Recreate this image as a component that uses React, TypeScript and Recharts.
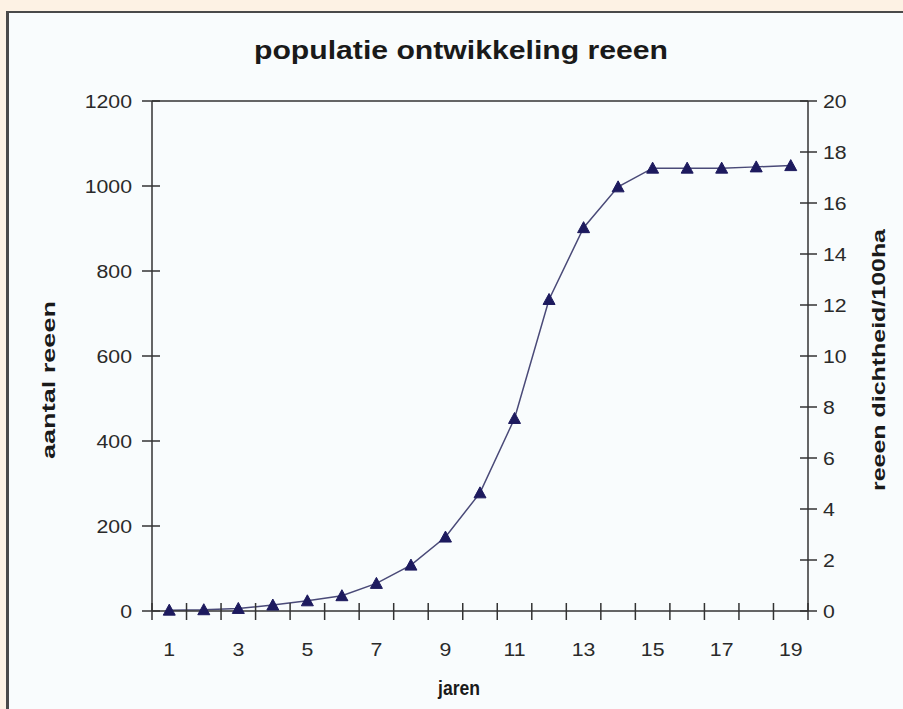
import React from "react";
import { LineChart, Line, XAxis, YAxis, ReferenceLine } from "recharts";

const jaren = [1, 2, 3, 4, 5, 6, 7, 8, 9, 10, 11, 12, 13, 14, 15, 16, 17, 18, 19];
const aantalReeen = [2, 3, 6, 14, 24, 36, 65, 108, 174, 278, 453, 733, 902, 998, 1042, 1042, 1042, 1045, 1048];

const leftTicks = [0, 200, 400, 600, 800, 1000, 1200];
const rightTicks = [0, 2, 4, 6, 8, 10, 12, 14, 16, 18, 20];
const xLabels = [1, 3, 5, 7, 9, 11, 13, 15, 17, 19];
const xTickMarks = [0.5, 1.5, 2.5, 3.5, 4.5, 5.5, 6.5, 7.5, 8.5, 9.5, 10.5, 11.5, 12.5, 13.5, 14.5, 15.5, 16.5, 17.5, 18.5, 19.5];

const data = jaren.map((j, i) => ({ jaar: j, aantal: aantalReeen[i] }));

const FONT = "'Liberation Sans', Arial, sans-serif";
const AXIS = "#333";
const TXT = "#2a2a2a";

const Num = ({ x, y, anchor, children }: any) => (
  <text
    transform={`translate(${x},${y}) scale(1.12,1)`}
    textAnchor={anchor}
    fontFamily={FONT}
    fontSize={19}
    fill={TXT}
  >
    {children}
  </text>
);

const LeftTick = (props: any) => {
  const { x, y, payload } = props;
  return (
    <g>
      <line x1={x - 10} x2={x + 8} y1={y} y2={y} stroke={AXIS} strokeWidth={1.5} />
      <Num x={x - 20} y={y + 7} anchor="end">{payload.value}</Num>
    </g>
  );
};

const RightTick = (props: any) => {
  const { x, y, payload } = props;
  return (
    <g>
      <line x1={x - 8} x2={x + 9} y1={y} y2={y} stroke={AXIS} strokeWidth={1.5} />
      <Num x={x + 15} y={y + 7} anchor="start">{payload.value}</Num>
    </g>
  );
};

const BottomTick = (props: any) => {
  const { x, y, payload } = props;
  if (payload.value % 1 !== 0) {
    return <line x1={x} x2={x} y1={y - 8} y2={y + 9} stroke={AXIS} strokeWidth={1.5} />;
  }
  return <Num x={x} y={y + 45} anchor="middle">{payload.value}</Num>;
};

const Triangle = (props: any) => {
  const { cx, cy, index } = props;
  if (cx == null || cy == null) return null;
  return (
    <polygon
      key={`tri-${index}`}
      points={`${cx},${cy - 6} ${cx - 6},${cy + 5} ${cx + 6},${cy + 5}`}
      fill="#1d1a5e"
      stroke="#1d1a5e"
      strokeWidth={1}
    />
  );
};

export default function App() {
  return (
    <div style={{ position: "absolute", left: 0, top: 0, width: 903, height: 709, background: "#fdf2e4", overflow: "hidden" }}>
      <div
        style={{
          position: "absolute",
          left: 6,
          top: 11,
          right: 0,
          bottom: 0,
          background: "#f9fcfd",
          borderLeft: "3px solid #4a4a4a",
          borderTop: "2px solid #4a4a4a",
        }}
      />
      <div style={{ position: "absolute", left: 0, top: 0 }}>
        <LineChart width={903} height={709} data={data} margin={{ top: 101, right: 0, bottom: 0, left: 0 }}>
          <XAxis
            dataKey="jaar"
            type="number"
            domain={[0.5, 19.5]}
            ticks={[...xTickMarks, ...xLabels]}
            interval={0}
            height={98}
            tickSize={0}
            tickMargin={0}
            tickLine={false}
            tick={<BottomTick />}
            axisLine={{ stroke: AXIS, strokeWidth: 1.5 }}
          />
          <YAxis
            yAxisId="left"
            domain={[0, 1200]}
            ticks={leftTicks}
            interval={0}
            width={152}
            tickSize={0}
            tickMargin={0}
            tickLine={false}
            tick={<LeftTick />}
            axisLine={{ stroke: AXIS, strokeWidth: 1.5 }}
          />
          <YAxis
            yAxisId="right"
            orientation="right"
            type="number"
            domain={[0, 20]}
            allowDataOverflow
            ticks={rightTicks}
            interval={0}
            width={95}
            tickSize={0}
            tickMargin={0}
            tickLine={false}
            tick={<RightTick />}
            axisLine={{ stroke: AXIS, strokeWidth: 1.5 }}
          />
          <ReferenceLine yAxisId="left" y={1200} stroke={AXIS} strokeWidth={1.5} />
          <Line
            yAxisId="right"
            dataKey="dichtheid"
            stroke="none"
            dot={false}
            activeDot={false}
            legendType="none"
            isAnimationActive={false}
          />
          <Line
            yAxisId="left"
            dataKey="aantal"
            type="linear"
            stroke="#4a4a78"
            strokeWidth={1.5}
            dot={Triangle}
            activeDot={false}
            isAnimationActive={false}
          />
        </LineChart>
      </div>
      <svg width={903} height={709} style={{ position: "absolute", left: 0, top: 0, pointerEvents: "none" }}>
        <text x={461} y={59} textAnchor="middle" fontFamily={FONT} fontWeight="bold" fontSize={25} fill="#1a1a1a" textLength={414} lengthAdjust="spacingAndGlyphs">
          populatie ontwikkeling reeen
        </text>
        <text
          transform="translate(55,380) rotate(-90)"
          textAnchor="middle"
          fontFamily={FONT}
          fontWeight="bold"
          fontSize={18}
          fill="#1a1a1a"
          textLength={158}
          lengthAdjust="spacingAndGlyphs"
        >
          aantal reeen
        </text>
        <text
          transform="translate(885,360) rotate(-90)"
          textAnchor="middle"
          fontFamily={FONT}
          fontWeight="bold"
          fontSize={18}
          fill="#1a1a1a"
          textLength={262}
          lengthAdjust="spacingAndGlyphs"
        >
          reeen dichtheid/100ha
        </text>
        <text x={459} y={695} textAnchor="middle" fontFamily={FONT} fontWeight="bold" fontSize={20} fill="#1a1a1a" textLength={42} lengthAdjust="spacingAndGlyphs">
          jaren
        </text>
      </svg>
    </div>
  );
}
